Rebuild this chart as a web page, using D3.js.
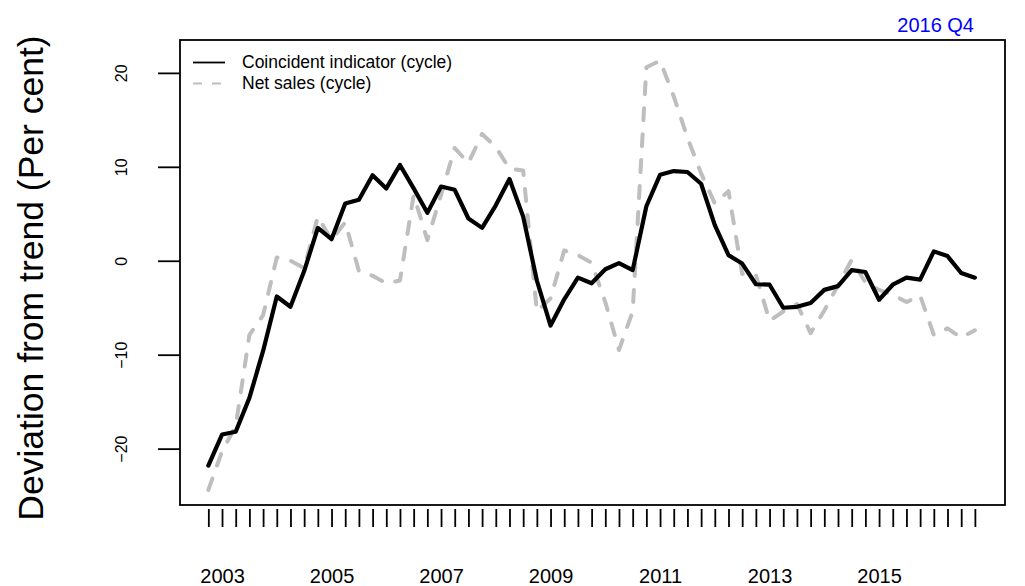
<!DOCTYPE html>
<head>
	<meta charset="utf-8">
	<title>Coincident indicator</title>
</head>
<style>
body { margin: 0; background: #fff; }
text { font-family: "Liberation Sans", Arial, sans-serif; }
.axis path.domain { display: none; }
.axis line { stroke: #000; stroke-width: 1.8px; }
</style>
<svg id="svg" width="1025" height="586"></svg>
<script src="https://cdn.jsdelivr.net/npm/d3@7/dist/d3.min.js"></script>
<script>

// quarters 2002 Q4 .. 2016 Q4
var quarters = [];
for (var yr = 2002; yr <= 2016; yr++)
  for (var q = 1; q <= 4; q++)
    if (!(yr == 2002 && q < 4)) quarters.push(yr + " Q" + q);

var yearLabels = ["2003", "2005", "2007", "2009", "2011", "2013", "2015"];
var yTicks = [-20, -10, 0, 10, 20];

var coincident = [-21.8, -18.5, -18.2, -14.6, -9.6, -3.8, -4.9, -1.1, 3.5, 2.3,
  6.1, 6.5, 9.1, 7.7, 10.2, 7.7, 5.1, 7.9, 7.55, 4.5,
  3.5, 5.9, 8.7, 4.7, -2.1, -6.9, -4.1, -1.8, -2.4, -0.9,
  -0.25, -1.0, 5.8, 9.15, 9.55, 9.45, 8.2, 3.8, 0.6, -0.3,
  -2.5, -2.55, -5.0, -4.9, -4.5, -3.1, -2.7, -1.0, -1.2, -4.15,
  -2.55, -1.8, -2.0, 1.0, 0.5, -1.3, -1.8];

var netSales = [-24.4, -20.3, -17.6, -7.9, -5.8, 0.35, 0.0, -0.8, 4.7, 2.2,
  4.1, -1.1, -1.6, -2.4, -2.1, 7.0, 2.2, 7.0, 12.0, 10.4,
  13.5, 12.1, 9.8, 9.6, -5.4, -4.0, 1.1, 0.6, -0.2, -4.4,
  -9.5, -5.4, 20.6, 21.3, 17.5, 13.1, 9.3, 6.1, 7.4, -1.4,
  -1.5, -6.4, -5.4, -4.6, -7.7, -5.3, -2.6, 0.1, -2.3, -3.1,
  -3.6, -4.4, -3.7, -7.9, -7.2, -8.2, -7.4];

var svg = d3.select("svg");

var x = d3.scaleLinear().domain([-2.07, 58.2]).range([180, 1005]);
var y = d3.scaleLinear().domain([-26, 23.5]).range([505, 40]);

// x axis: a tick every quarter, year label on Q1 of odd years
var xAxis = d3.axisBottom(x)
    .tickValues(d3.range(quarters.length))
    .tickSize(18)
    .tickPadding(42)
    .tickFormat(function(i) {
      var lab = quarters[i].slice(0, 4);
      return (quarters[i].slice(5) == "Q1" && yearLabels.indexOf(lab) >= 0) ? lab : "";
    });

svg.append("g")
    .attr("class", "axis")
    .attr("transform", "translate(0,509)")
    .call(xAxis)
  .selectAll("text")
    .attr("fill", "#000")
    .style("font-size", "20px");

var yAxis = d3.axisLeft(y).tickValues(yTicks).tickSize(22)
    .tickFormat(function(d) { return d < 0 ? "\u2212" + (-d) : d; });

svg.append("g")
    .attr("class", "axis")
    .attr("transform", "translate(180,0)")
    .call(yAxis)
  .selectAll("text")
    .attr("x", null).attr("dy", null)
    .attr("fill", "#000")
    .attr("text-anchor", "middle")
    .attr("transform", "translate(-53,0) rotate(-90)")
    .style("font-size", "16px");

svg.append("text")
    .attr("transform", "translate(43,278) rotate(-90)")
    .attr("text-anchor", "middle")
    .style("font-size", "35.5px")
    .text("Deviation from trend (Per cent)");

var line = d3.line()
    .x(function(d, i) { return x(i); })
    .y(function(d) { return y(d); });

svg.append("path")
    .datum(netSales)
    .attr("d", line)
    .attr("fill", "none")
    .attr("stroke", "#bebebe")
    .attr("stroke-width", 4)
    .attr("stroke-linecap", "round")
    .attr("stroke-linejoin", "round")
    .attr("stroke-dasharray", "12,14");

svg.append("path")
    .datum(coincident)
    .attr("d", line)
    .attr("fill", "none")
    .attr("stroke", "#000")
    .attr("stroke-width", 4.2)
    .attr("stroke-linecap", "round")
    .attr("stroke-linejoin", "round");

// plot box
svg.append("rect")
    .attr("x", 180).attr("y", 40)
    .attr("width", 825).attr("height", 465)
    .attr("fill", "none")
    .attr("stroke", "#000")
    .attr("stroke-width", 1.8);

// legend
var legend = [
  {name: "Coincident indicator (cycle)", color: "#000", dash: null},
  {name: "Net sales (cycle)", color: "#bebebe", dash: "9,10"}
];

var lg = svg.append("g").selectAll("g")
    .data(legend)
    .enter().append("g")
      .attr("transform", function(d, i) { return "translate(0," + (62.5 + i * 21) + ")"; });

lg.append("line")
    .attr("x1", 193).attr("x2", 225)
    .attr("stroke", function(d) { return d.color; })
    .attr("stroke-width", 1.8)
    .attr("stroke-dasharray", function(d) { return d.dash; });

lg.append("text")
    .attr("x", 242).attr("y", 5.5)
    .style("font-size", "17.5px")
    .text(function(d) { return d.name; });

svg.append("text")
    .attr("x", 974).attr("y", 32)
    .attr("text-anchor", "end")
    .attr("fill", "#0000ff")
    .style("font-size", "20px")
    .text(quarters[quarters.length - 1]);

</script>
